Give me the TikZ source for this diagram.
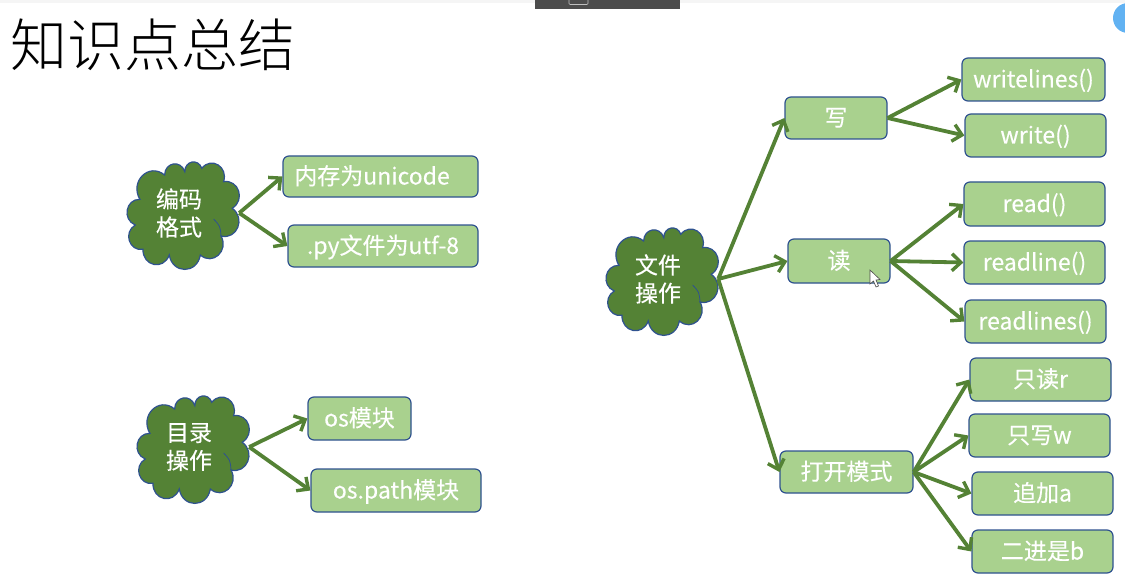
\documentclass[tikz,border=0pt]{standalone}
\usepackage{fontspec}
\newfontfamily\cjk[FakeBold=0.25]{Noto Sans CJK SC}
\newfontfamily\cjklight{Noto Sans CJK SC Light}
\usetikzlibrary{
    arrows.meta,
    positioning
}
\definecolor{leaffill}{HTML}{A9D18E}
\definecolor{darkfill}{HTML}{548235}
\definecolor{edgeblue}{HTML}{2F528F}
\definecolor{badge}{HTML}{62B2F2}
\tikzset{
    leafbox/.style={draw=edgeblue, fill=leaffill, line width=1.2pt, rounded corners=6pt, text=white,
        inner sep=0pt, text height=16pt, text depth=0pt, font=\fontsize{23}{25}\selectfont\cjk},
    topic/.style={inner sep=0pt, minimum width=120pt, minimum height=100pt, text=white, align=center,
        font=\fontsize{23}{28}\selectfont\cjk},
    blob/.style={draw=edgeblue, fill=darkfill, line width=1.2pt},
    puff/.style={bend right=80, looseness=1.5},
    link/.style={draw=darkfill, line width=3.8pt, -{Straight Barb[length=9pt,width=17pt,line width=3.4pt]}}
}
% the cloud outline around a topic
\newcommand{\topicblob}[2]{
    \begin{scope}[shift={(#1, #2)}, xscale=.93]
        \draw[blob] (-45.3, -15.7) to[puff] (-50.3, 10)
            to[puff] (-42, 34.3)
            to[puff] (-13.7, 40)
            to[puff] (19.7, 40)
            to[puff] (42, 21)
            to[puff] (54, -6.7)
            to[puff] (44.7, -33.3)
            to[puff] (21.3, -46.7)
            to[puff] (3, -43.3)
            to[puff] (-18.7, -40)
            to[puff] (-45.3, -15.7) -- cycle;
        \draw[edgeblue, line width=.8pt] (42, 21) .. controls (41, 11) .. (34, 4);
    \end{scope}
}
\begin{document}
\begin{tikzpicture}[x=1pt, y=-1pt]
    \useasboundingbox (0, 0) rectangle (1125, 583);

    % screen recording leftovers
    \fill[black!4] (0, 0) rectangle (1125, 3);
    \fill[black!70!white] (535, 0) rectangle (680, 9);
    \draw[black!25, line width=.6pt, rounded corners=1pt] (569, -2) rectangle (588, 4.5);
    \fill[badge] (1128, 18) circle (15);

    \node[anchor=west, font=\fontsize{57}{60}\selectfont\cjklight] (title) at (7, 45) {知识点总结};

    % left
    \topicblob{182}{215}
    \node[topic] (coding) at (179, 213) {编码\\格式};
    \node[leafbox, minimum width=195pt, minimum height=41pt] (memory) at (380.5, 176.5) {内存为unicode\hspace*{17pt}};
    \node[leafbox, minimum width=190pt, minimum height=42pt] (pyfile) at (383, 246) {.py文件为utf-8};
    \draw[link] (coding.east) -- (memory.west);
    \draw[link] (coding.east) -- (pyfile.west);

    \topicblob{192}{449}
    \node[topic] (dirs) at (189, 447) {目录\\操作};
    \node[leafbox, minimum width=103pt, minimum height=43pt] (osmod) at (359.5, 418.5) {os模块};
    \node[leafbox, minimum width=170pt, minimum height=43pt] (ospath) at (396, 490.5) {os.path模块};
    \draw[link] (dirs.east) -- (osmod.west);
    \draw[link] (dirs.east) -- (ospath.west);

    % right
    \topicblob{661}{281}
    \node[topic] (files) at (658, 279) {文件\\操作};
    \node[leafbox, minimum width=102pt, minimum height=42pt] (wr) at (836, 118) {写};
    \node[leafbox, minimum width=102pt, minimum height=44pt] (rd) at (839, 261) {读};
    \node[leafbox, minimum width=133pt, minimum height=42pt] (modes) at (846.5, 472) {打开模式};
    \draw[link] (files.east) -- (wr.west);
    \draw[link] (files.east) -- (rd.west);
    \draw[link] (files.east) -- (modes.west);

    \node[leafbox, minimum width=143pt, minimum height=43pt] (wlines) at (1033.5, 79.5) {writelines()};
    \node[leafbox, minimum width=141pt, minimum height=43pt] (wone) at (1035.5, 135.5) {write()};
    \draw[link] (wr.east) -- (wlines.west);
    \draw[link] (wr.east) -- (wone.west);

    \node[leafbox, minimum width=141pt, minimum height=44pt] (rone) at (1034.5, 204) {read()};
    \node[leafbox, minimum width=141pt, minimum height=43pt] (rline) at (1034.5, 262.5) {readline()};
    \node[leafbox, minimum width=141pt, minimum height=43pt] (rlines) at (1035.5, 321.5) {readlines()};
    \draw[link] (rd.east) -- (rone.west);
    \draw[link] (rd.east) -- (rline.west);
    \draw[link] (rd.east) -- (rlines.west);

    \node[leafbox, minimum width=141pt, minimum height=43pt] (mr) at (1040.5, 379.5) {只读r};
    \node[leafbox, minimum width=141pt, minimum height=43pt] (mw) at (1039.5, 435.5) {只写w};
    \node[leafbox, minimum width=141pt, minimum height=43pt] (ma) at (1042.5, 493.5) {追加a};
    \node[leafbox, minimum width=141pt, minimum height=43pt] (mb) at (1042.5, 551.5) {二进是b};
    \draw[link] (modes.east) -- (mr.west);
    \draw[link] (modes.east) -- (mw.west);
    \draw[link] (modes.east) -- (ma.west);
    \draw[link] (modes.east) -- (mb.west);

    % mouse pointer
    \draw[fill=white, draw=black!70, line width=.6pt] (870, 270) -- (870, 284) -- (873.5, 281) -- (876, 287) -- (878.5, 286) -- (876, 280) -- (880, 279.5) -- cycle;
\end{tikzpicture}
\end{document}
